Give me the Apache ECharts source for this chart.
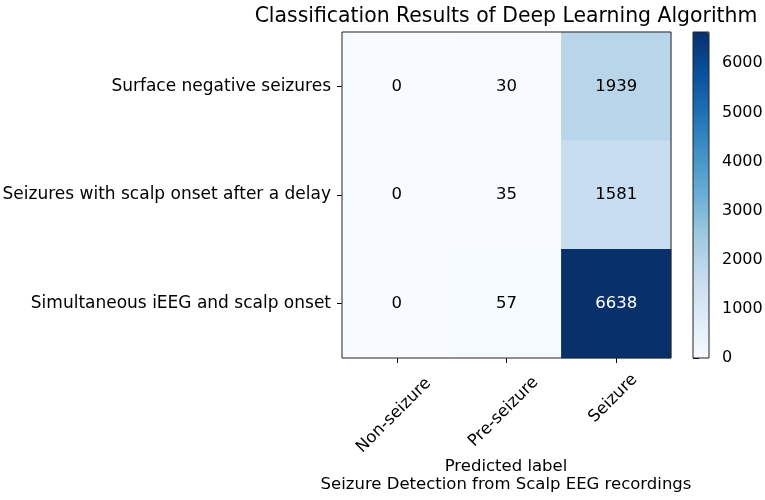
<!DOCTYPE html>
<html>
<head>
<meta charset="utf-8">
<script src="https://cdn.jsdelivr.net/npm/echarts@6/dist/echarts.min.js"></script>
<style>html,body{margin:0;padding:0;background:#fff}#c{width:765px;height:500px}</style>
</head>
<body>
<div id="c"></div>
<script>
const trueLabels = ['Surface negative seizures', 'Seizures with scalp onset after a delay', 'Simultaneous iEEG and scalp onset'];
const predLabels = ['Non-seizure', 'Pre-seizure', 'Seizure'];
const rowSurface = [0, 30, 1939];
const rowDelay = [0, 35, 1581];
const rowSimul = [0, 57, 6638];
const colorbarTicks = [0, 1000, 2000, 3000, 4000, 5000, 6000];

const rows = [rowSurface, rowDelay, rowSimul];
const vmax = Math.max(...rows.flat());
const data = [];
rows.forEach((r, i) => r.forEach((v, j) => {
  data.push({ value: [j, i, v], label: { color: v > vmax / 2 ? '#ffffff' : '#000000' } });
}));
const FONT = 'DejaVu Sans';
const FS = 16.5;
// per-label line height / padding (style only) so the rotated labels hang centred under their ticks
const xLabelLH = [47.4, 42.4, 23.3];
const xLabelPadR = [55.9, 50.9, 31.9];
const xCats = predLabels.map((name, k) => ({
  value: name,
  textStyle: {
    align: 'center', verticalAlign: 'top',
    lineHeight: xLabelLH[k],
    padding: [0, xLabelPadR[k], 0, 0]
  }
}));
const chart = echarts.init(document.getElementById('c'));
chart.setOption({
  animation: false,
  textStyle: { fontFamily: FONT },
  title: [
    {
      text: 'Classification Results of Deep Learning Algorithm',
      left: 501, top: 2, textAlign: 'center',
      textStyle: { fontFamily: FONT, fontWeight: 'normal', fontSize: 20.4, color: '#000' }
    },
    {
      text: 'Predicted label\nSeizure Detection from Scalp EEG recordings',
      left: 501, top: 453, textAlign: 'center',
      textStyle: { fontFamily: FONT, fontWeight: 'normal', fontSize: FS, lineHeight: 18, color: '#000', align: 'center' }
    }
  ],
  grid: [
    { left: 342, top: 32, width: 329, height: 326, outerBoundsMode: 'none', containLabel: false, show: true, borderColor: '#222', borderWidth: 1, backgroundColor: 'transparent', z: 5 },
    { left: 693, top: 32, width: 16, height: 326, outerBoundsMode: 'none', containLabel: false, show: true, borderColor: '#222', borderWidth: 1, backgroundColor: 'transparent', z: 5 }
  ],
  xAxis: [
    {
      type: 'category', data: xCats, gridIndex: 0,
      axisLine: { show: false },
      axisTick: { show: true, alignWithLabel: true, length: 5, lineStyle: { color: '#000' } },
      axisLabel: { rotate: 45, align: 'center', verticalAlign: 'top', fontSize: FS, color: '#000', fontFamily: FONT, margin: 21, interval: 0 },
      splitLine: { show: false }
    },
    { type: 'value', gridIndex: 1, show: false, min: 0, max: 1 }
  ],
  yAxis: [
    {
      type: 'category', data: trueLabels, gridIndex: 0, inverse: true,
      axisLine: { show: false },
      axisTick: { show: true, alignWithLabel: true, length: 5, lineStyle: { color: '#000' } },
      axisLabel: { fontSize: 17, color: '#000', fontFamily: FONT, margin: 11, interval: 0 },
      splitLine: { show: false }
    },
    {
      type: 'value', gridIndex: 1, position: 'right', min: 0, max: vmax, interval: 1000,
      axisLine: { show: false },
      axisTick: { show: true, length: 6, lineStyle: { color: '#000' } },
      axisLabel: {
        fontSize: 16, color: '#000', fontFamily: FONT, margin: 13,
        formatter: v => colorbarTicks.includes(v) ? String(v) : ''
      },
      splitLine: { show: false }
    }
  ],
  visualMap: {
    type: 'continuous', min: 0, max: vmax, seriesIndex: 0,
    left: 693, top: 32, itemWidth: 16, itemHeight: 326, padding: 0,
    calculable: false, text: null, showLabel: false, realtime: false, hoverLink: false,
    inRange: { color: ['#f7fbff', '#deebf7', '#c6dbef', '#9ecae1', '#6baed6', '#4292c6', '#2171b5', '#08519c', '#08306b'] }
  },
  series: [{
    type: 'heatmap', xAxisIndex: 0, yAxisIndex: 0, data: data,
    label: { show: true, fontSize: FS, fontFamily: FONT, formatter: p => String(p.value[2]) },
    emphasis: { disabled: true }
  }]
});
</script>
</body>
</html>
